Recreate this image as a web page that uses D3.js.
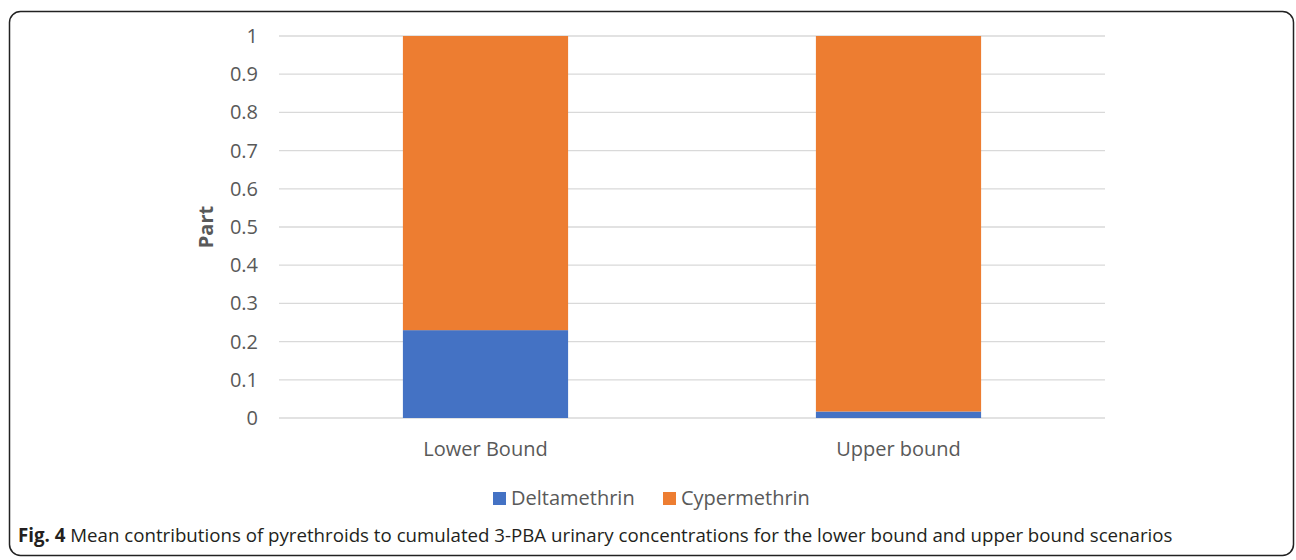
<!DOCTYPE html>
<html>
<head>
<meta charset="utf-8">
<script src="https://cdn.jsdelivr.net/npm/d3@7"></script>
<style>
  body { margin: 0; background: #fff; }
  text { font-family: "Open Sans", "Noto Sans", sans-serif; }
</style>
</head>
<body>
<svg id="chart" width="1296" height="560"></svg>
<script>
// chart data
var categories = ["Lower Bound", "Upper bound"];
var deltamethrin = [0.23, 0.017];
var cypermethrin = [0.77, 0.983];
var seriesNames = ["Deltamethrin", "Cypermethrin"];
var seriesColors = ["#4472c4", "#ed7d31"];
var yTicks = [0, 0.1, 0.2, 0.3, 0.4, 0.5, 0.6, 0.7, 0.8, 0.9, 1];

var svg = d3.select("#chart");

// frame round the figure
svg.append("rect")
    .attr("x", 9.5).attr("y", 11.5)
    .attr("width", 1284).attr("height", 544)
    .attr("rx", 11).attr("ry", 11)
    .attr("fill", "none")
    .attr("stroke", "#222")
    .attr("stroke-width", 1.5);

var plotLeft = 279, plotRight = 1105, plotTop = 36, plotBottom = 418;

var x = d3.scaleBand()
    .domain(categories)
    .range([plotLeft, plotRight])
    .paddingInner(0.6)
    .paddingOuter(0.3);

var y = d3.scaleLinear().domain([0, 1]).range([plotBottom, plotTop]);

// gridlines
svg.append("g").selectAll("line")
    .data(yTicks)
    .enter().append("line")
    .attr("x1", plotLeft).attr("x2", plotRight)
    .attr("y1", function (d) { return y(d); })
    .attr("y2", function (d) { return y(d); })
    .attr("stroke", "#d9d9d9")
    .attr("stroke-width", 1.3);

// y axis labels
var yAxis = d3.axisLeft(y).tickValues(yTicks).tickSize(0).tickPadding(0)
    .tickFormat(function (d) { return String(+d.toFixed(1)); });
var gy = svg.append("g").attr("transform", "translate(258,0)").call(yAxis);
gy.select(".domain").remove();
gy.selectAll("text")
    .attr("font-size", 20)
    .attr("fill", "#595959")
    .style("font-family", "Open Sans, sans-serif");

// stacked bars
var rows = categories.map(function (c, i) {
    return { cat: c, Deltamethrin: deltamethrin[i], Cypermethrin: cypermethrin[i] };
});
var stacked = d3.stack().keys(seriesNames)(rows);

svg.append("g").selectAll("g")
    .data(stacked)
    .enter().append("g")
    .attr("fill", function (d, i) { return seriesColors[i]; })
    .selectAll("rect")
    .data(function (d) { return d; })
    .enter().append("rect")
    .attr("x", function (d) { return x(d.data.cat); })
    .attr("width", x.bandwidth())
    .attr("y", function (d) { return y(d[1]); })
    .attr("height", function (d) { return y(d[0]) - y(d[1]); });

// x axis labels
var xAxis = d3.axisBottom(x).tickSize(0).tickPadding(0);
var gx = svg.append("g").attr("transform", "translate(0,456)").call(xAxis);
gx.select(".domain").remove();
gx.selectAll("text")
    .attr("dy", 0)
    .attr("font-size", 20)
    .attr("fill", "#595959")
    .style("font-family", "Open Sans, sans-serif");

// y axis title
svg.append("text")
    .attr("transform", "translate(213,227) rotate(-90)")
    .attr("text-anchor", "middle")
    .attr("font-size", 20)
    .attr("font-weight", "bold")
    .attr("fill", "#595959")
    .text("Part");

// legend
var legendX = [493, 663];
var legend = svg.append("g").selectAll("g")
    .data(seriesNames)
    .enter().append("g")
    .attr("transform", function (d, i) { return "translate(" + legendX[i] + ",492)"; });
legend.append("rect")
    .attr("width", 13).attr("height", 13)
    .attr("fill", function (d, i) { return seriesColors[i]; });
legend.append("text")
    .attr("x", 18).attr("y", 13)
    .attr("font-size", 20)
    .attr("fill", "#595959")
    .text(function (d) { return d; });

// caption
var cap = svg.append("text")
    .attr("x", 18).attr("y", 542)
    .attr("font-size", 18.7)
    .attr("fill", "#231f20");
cap.append("tspan").attr("font-weight", "bold").text("Fig. 4");
cap.append("tspan").text(" Mean contributions of pyrethroids to cumulated 3-PBA urinary concentrations for the lower bound and upper bound scenarios");
</script>
</body>
</html>
